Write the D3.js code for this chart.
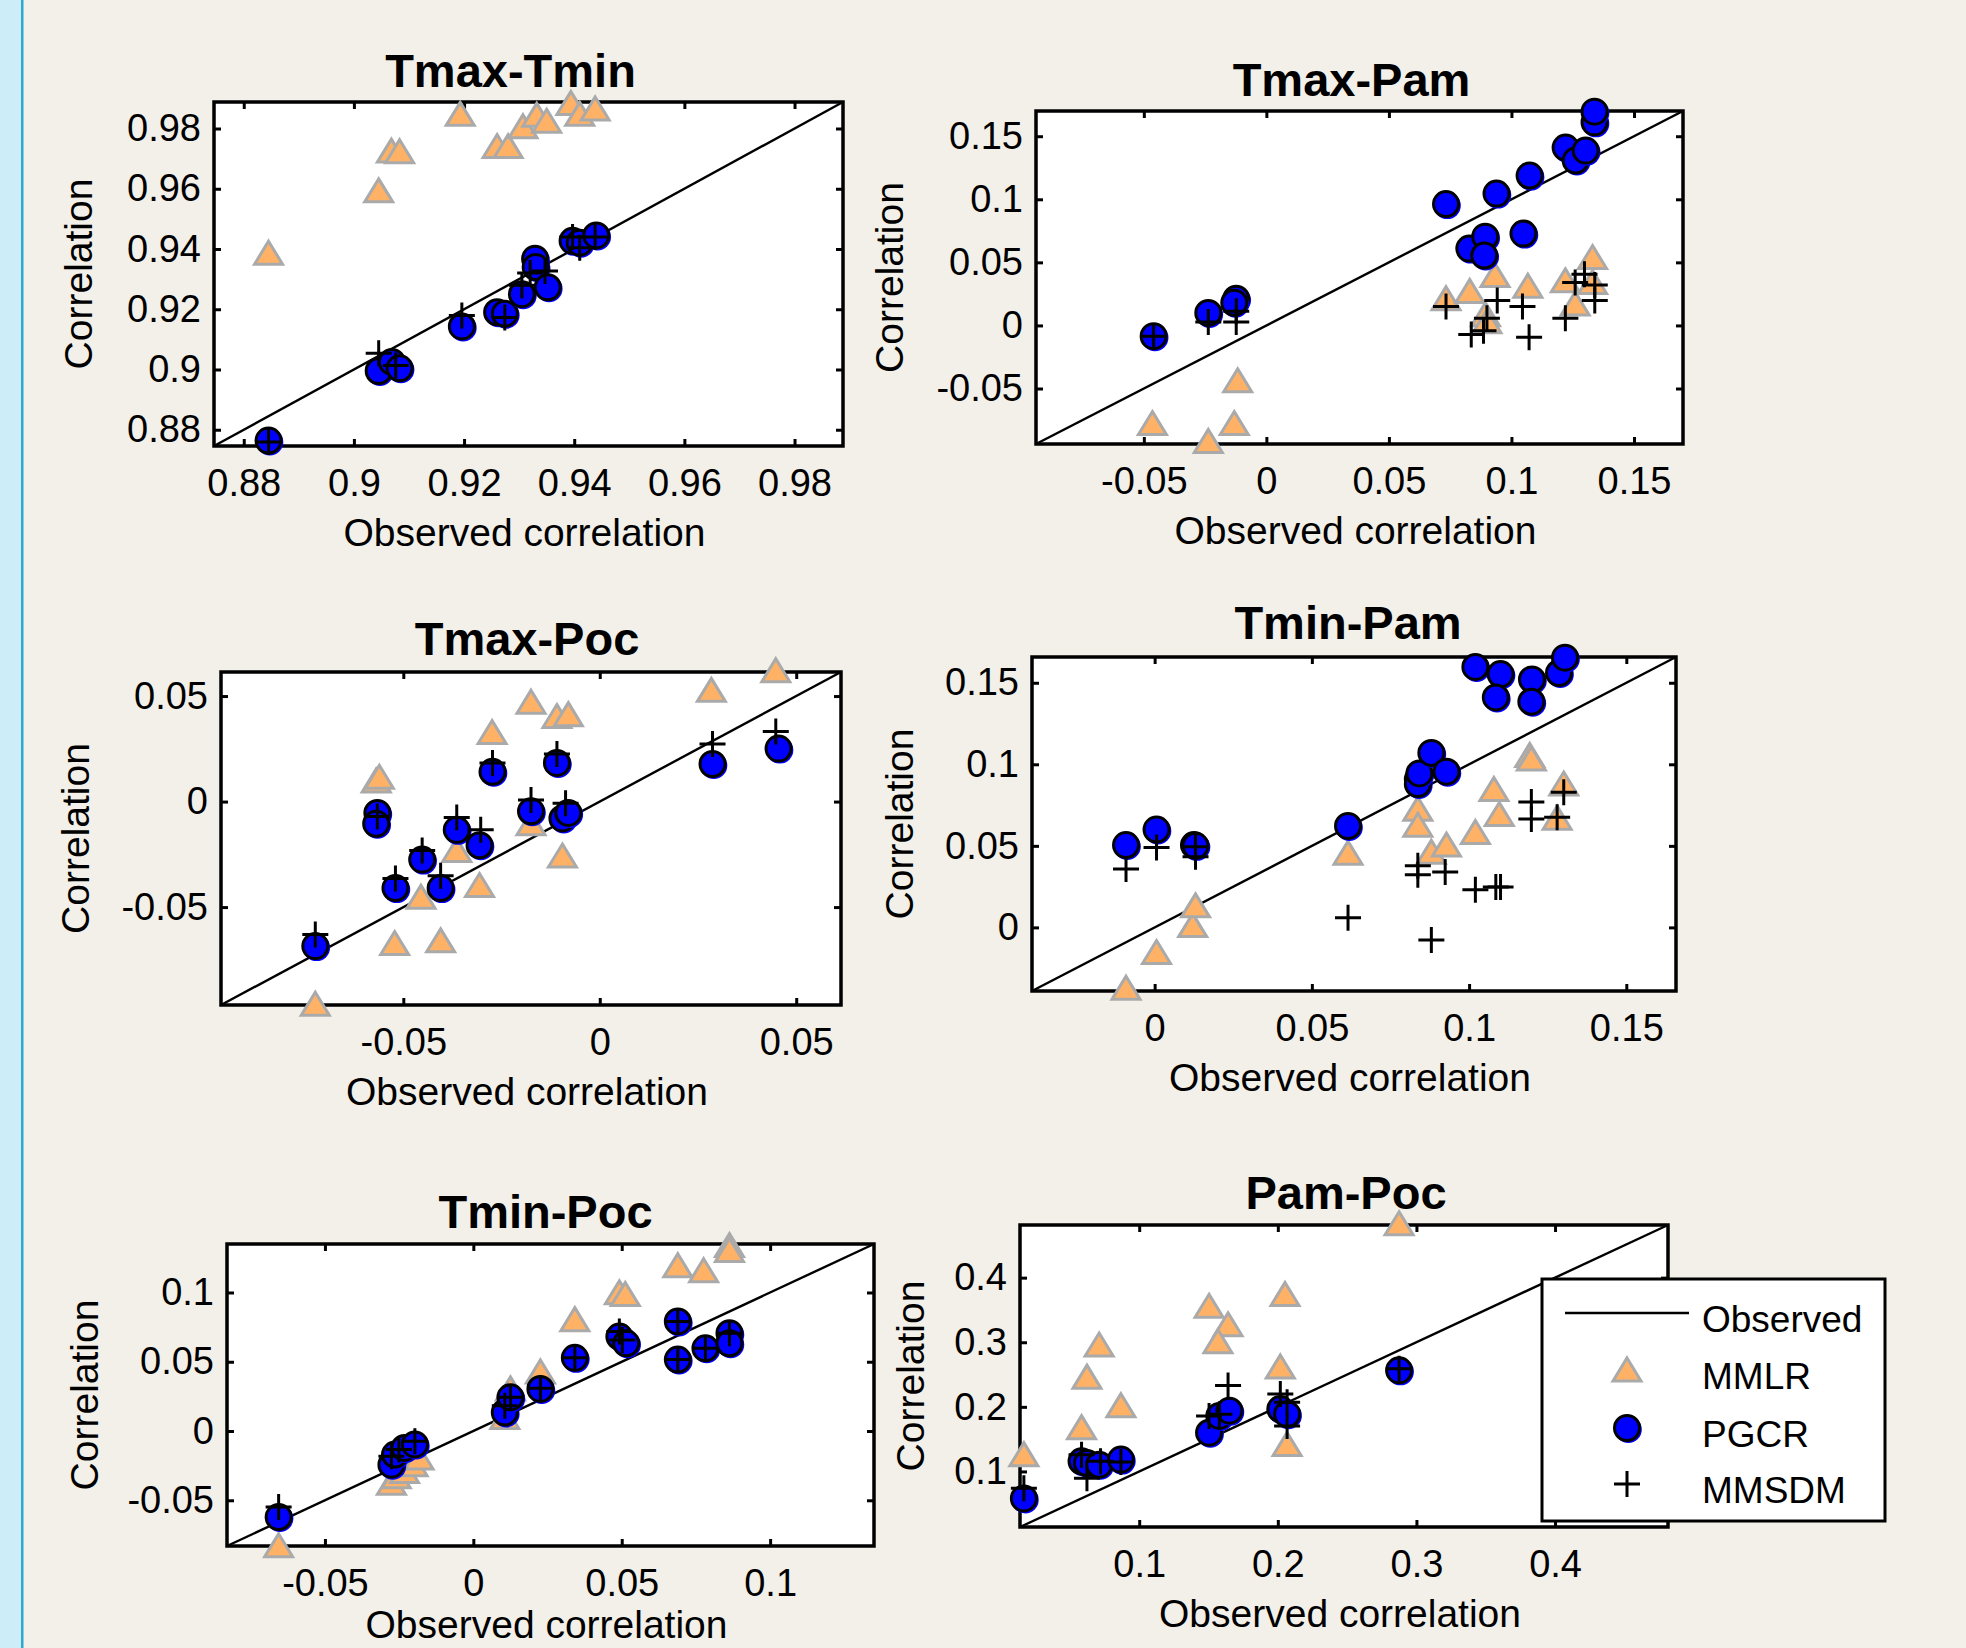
<!DOCTYPE html>
<html>
<head>
<meta charset="utf-8">
<script src="https://cdn.jsdelivr.net/npm/d3@7"></script>
<style>
    html, body { margin: 0; padding: 0; background: #f2f0e9; }
    svg { display: block; font-family: "Liberation Sans", Arial, sans-serif; }
</style>
</head>
<body>
<svg id="chart" width="1966" height="1648"></svg>
<script>
'use strict';

// ---- data: [observed, modelled] correlation pairs ----

var tmaxTminMMLR = [[0.8845,0.9386],[0.9045,0.9593],[0.9068,0.9725],[0.9083,0.9723],[0.9193,0.9847],[0.926,0.974],[0.928,0.974],[0.9307,0.9806],[0.9332,0.9844],[0.935,0.9824],[0.9394,0.9883],[0.941,0.9847],[0.9438,0.9865]];
var tmaxTminPGCR = [[0.8845,0.8764],[0.9045,0.8995],[0.9069,0.9025],[0.9083,0.9004],[0.9196,0.9143],[0.926,0.919],[0.9274,0.9185],[0.9305,0.925],[0.9329,0.9368],[0.933,0.934],[0.9352,0.9273],[0.9397,0.9427],[0.941,0.9421],[0.944,0.9445]];
var tmaxTminMMSDM = [[0.8845,0.8759],[0.9045,0.9054],[0.9076,0.9013],[0.9196,0.9179],[0.9274,0.9173],[0.9305,0.928],[0.932,0.932],[0.9347,0.9327],[0.9397,0.944],[0.941,0.9404],[0.9438,0.944]];

var tmaxPamMMLR = [[-0.0465,-0.0778],[-0.0237,-0.092],[-0.0131,-0.0778],[-0.0117,-0.0439],[0.0733,0.0212],[0.083,0.0269],[0.0894,0.0085],[0.090,0.003],[0.0933,0.0396],[0.1067,0.0311],[0.122,0.0354],[0.126,0.017],[0.1331,0.0538],[0.1331,0.034]];
var tmaxPamPGCR = [[-0.046,-0.0085],[-0.0237,0.0099],[-0.0123,0.0212],[-0.0131,0.018],[0.0733,0.0962],[0.0939,0.1045],[0.1074,0.1188],[0.0828,0.0609],[0.0893,0.0704],[0.0889,0.0554],[0.1049,0.0728],[0.1221,0.141],[0.1262,0.1307],[0.1303,0.1386],[0.1339,0.161],[0.1339,0.1695]];
var tmaxPamMMSDM = [[-0.046,-0.0085],[-0.0237,0.0028],[-0.0123,0.0028],[-0.0123,0.0113],[0.0733,0.015],[0.0836,-0.0071],[0.0886,-0.0042],[0.090,0.0057],[0.0942,0.0198],[0.1045,0.015],[0.1072,-0.0093],[0.122,0.0057],[0.126,0.034],[0.1298,0.0405],[0.134,0.032],[0.134,0.0198]];

var tmaxPocMMLR = [[-0.0724,-0.096],[-0.0569,0.0098],[-0.0561,0.0115],[-0.0522,-0.0673],[-0.0455,-0.0453],[-0.0405,-0.066],[-0.0364,-0.0232],[-0.0306,-0.0398],[-0.0274,0.0327],[-0.0175,0.0471],[-0.0175,-0.0105],[-0.0109,0.0403],[-0.008,0.0412],[-0.0095,-0.0258],[0.0284,0.0527],[0.0448,0.062]];
var tmaxPocPGCR = [[-0.0724,-0.0685],[-0.0566,-0.0054],[-0.0569,-0.0105],[-0.052,-0.041],[-0.0452,-0.0275],[-0.0405,-0.041],[-0.0364,-0.0134],[-0.0306,-0.0207],[-0.0273,0.0141],[-0.0175,-0.0046],[-0.0109,0.0183],[-0.0095,-0.008],[-0.008,-0.0054],[0.0287,0.0178],[0.0455,0.0251]];
var tmaxPocMMSDM = [[-0.0724,-0.063],[-0.0566,-0.0071],[-0.052,-0.0364],[-0.0452,-0.0232],[-0.0405,-0.0351],[-0.0364,-0.0076],[-0.0303,-0.0134],[-0.0273,0.0183],[-0.0175,0.0008],[-0.0109,0.0225],[-0.0087,-0.0008],[0.0287,0.0273],[0.0448,0.0332]];

var tminPamMMLR = [[-0.0091,-0.0373],[0.0006,-0.0154],[0.0121,0.0011],[0.013,0.0132],[0.0615,0.0455],[0.0837,0.0725],[0.0837,0.0626],[0.088,0.0461],[0.0928,0.0505],[0.102,0.0582],[0.1079,0.0846],[0.1096,0.0692],[0.1193,0.1054],[0.1198,0.1032],[0.1301,0.0879],[0.128,0.067]];
var tminPamPGCR = [[-0.0091,0.0505],[0.0006,0.060],[0.0125,0.0505],[0.013,0.050],[0.0615,0.0622],[0.0837,0.0907],[0.0837,0.0879],[0.0842,0.0944],[0.088,0.107],[0.0928,0.0955],[0.102,0.1597],[0.110,0.1553],[0.1085,0.141],[0.120,0.152],[0.1198,0.1384],[0.1286,0.156],[0.1305,0.1654]];
var tminPamMMSDM = [[-0.0091,0.0358],[0.0006,0.049],[0.013,0.0494],[0.013,0.0433],[0.0615,0.0059],[0.0837,0.0378],[0.0837,0.0323],[0.0924,0.034],[0.088,-0.0077],[0.102,0.0231],[0.1085,0.0248],[0.110,0.0248],[0.1198,0.0769],[0.1198,0.0665],[0.128,0.0676],[0.1301,0.0828]];

var tminPocMMLR = [[-0.0656,-0.0828],[-0.0276,-0.0377],[-0.026,-0.033],[-0.0232,-0.0292],[-0.0203,-0.0243],[-0.0183,-0.0195],[0.0106,0.0097],[0.0125,0.0304],[0.0226,0.0426],[0.0342,0.0804],[0.0492,0.0998],[0.0512,0.0986],[0.0689,0.1193],[0.0776,0.1157],[0.0863,0.1339],[0.0863,0.1303]];
var tminPocPGCR = [[-0.0656,-0.0621],[-0.0276,-0.0243],[-0.0264,-0.017],[-0.0232,-0.0122],[-0.0197,-0.0097],[0.0106,0.0134],[0.0125,0.0243],[0.0226,0.0304],[0.0342,0.0528],[0.0492,0.0682],[0.0515,0.0633],[0.0689,0.0791],[0.0689,0.0516],[0.0782,0.0597],[0.0863,0.0706],[0.0863,0.0633]];
var tminPocMMSDM = [[-0.0656,-0.0548],[-0.0276,-0.0183],[-0.0251,-0.0134],[-0.0197,-0.0073],[0.0106,0.0183],[0.0125,0.0243],[0.0226,0.0309],[0.0342,0.0528],[0.0492,0.0718],[0.0502,0.0657],[0.0689,0.0791],[0.0689,0.0516],[0.0782,0.0597],[0.0863,0.0706]];

var pamPocMMLR = [[0.0168,0.126],[0.0584,0.1678],[0.0623,0.246],[0.0711,0.2956],[0.0868,0.2017],[0.1504,0.3556],[0.1641,0.327],[0.1568,0.3008],[0.2018,0.2617],[0.2052,0.3739],[0.2067,0.1417],[0.2875,0.4834]];
var pamPocPGCR = [[0.0168,0.0583],[0.0584,0.1157],[0.0623,0.113],[0.0711,0.1104],[0.0868,0.1183],[0.1504,0.16],[0.1578,0.186],[0.1651,0.194],[0.2018,0.1965],[0.2067,0.1887],[0.2875,0.2565]];
var pamPocMMSDM = [[0.0168,0.074],[0.0584,0.126],[0.0623,0.0896],[0.0721,0.1157],[0.0868,0.1146],[0.1504,0.186],[0.1578,0.1887],[0.1641,0.233],[0.2018,0.22],[0.2067,0.207],[0.2067,0.1704],[0.2875,0.259]];

// tick values of each panel (same on both axes)
var tmaxTminTicks = [0.88, 0.9, 0.92, 0.94, 0.96, 0.98];
var tmaxPamTicks = [-0.05, 0, 0.05, 0.1, 0.15];
var tmaxPocTicks = [-0.05, 0, 0.05];
var tminPamTicks = [0, 0.05, 0.1, 0.15];
var tminPocTicks = [-0.05, 0, 0.05, 0.1];
var pamPocTicks = [0.1, 0.2, 0.3, 0.4];

var seriesNames = ['Observed', 'MMLR', 'PGCR', 'MMSDM'];

// ---- layout ----
var panels = [
    {title: 'Tmax-Tmin', box: [214, 102, 843, 446], domain: [0.8746, 0.9888], ticks: tmaxTminTicks,
        mmlr: tmaxTminMMLR, pgcr: tmaxTminPGCR, mmsdm: tmaxTminMMSDM, titleDx: -18, titleGap: 15, yLabelGap: 122, xLabelGap: 100},
    {title: 'Tmax-Pam', box: [1036, 111, 1683, 444], domain: [-0.094, 0.170], ticks: tmaxPamTicks,
        mmlr: tmaxPamMMLR, pgcr: tmaxPamPGCR, mmsdm: tmaxPamMMSDM, titleDx: -8, titleGap: 15, yLabelGap: 133, xLabelGap: 100},
    {title: 'Tmax-Poc', box: [221, 672, 841, 1005], domain: [-0.0964, 0.0614], ticks: tmaxPocTicks,
        mmlr: tmaxPocMMLR, pgcr: tmaxPocPGCR, mmsdm: tmaxPocMMSDM, titleDx: -4, titleGap: 17, yLabelGap: 132, xLabelGap: 100},
    {title: 'Tmin-Pam', box: [1032, 657, 1676, 991], domain: [-0.039, 0.1658], ticks: tminPamTicks,
        mmlr: tminPamMMLR, pgcr: tminPamPGCR, mmsdm: tminPamMMSDM, titleDx: -6, titleGap: 18, yLabelGap: 119, xLabelGap: 100},
    {title: 'Tmin-Poc', box: [227, 1244, 874, 1546], domain: [-0.083, 0.135], ticks: tminPocTicks,
        mmlr: tminPocMMLR, pgcr: tminPocPGCR, mmsdm: tminPocMMSDM, titleDx: -5, titleGap: 16, yLabelGap: 129, xLabelGap: 92},
    {title: 'Pam-Poc', box: [1020, 1225, 1668, 1527], domain: [0.014, 0.4815], ticks: pamPocTicks,
        mmlr: pamPocMMLR, pgcr: pamPocPGCR, mmsdm: pamPocMMSDM, titleDx: 2, titleGap: 16, yLabelGap: 96, xLabelGap: 100}
];

var triFill = '#ffb266', triEdge = '#aaaaaa', dotFill = '#0000ff';
var trianglePath = 'M0,-12L14,11L-14,11Z';
var fmt = function(d) { return String(+d.toFixed(3)); };

var svg = d3.select('#chart');

svg.append('rect').attr('width', 1966).attr('height', 1648).attr('fill', '#f2f0e9');
svg.append('rect').attr('width', 21).attr('height', 1648).attr('fill', '#cdeef8');
svg.append('rect').attr('x', 21).attr('width', 2.5).attr('height', 1648).attr('fill', '#2aa9d2');

function drawTriangles(g, data, x, y) {
    g.selectAll(null).data(data).enter().append('path')
        .attr('d', trianglePath)
        .attr('transform', function(d) { return 'translate(' + x(d[0]) + ',' + y(d[1]) + ')'; })
        .attr('fill', triFill).attr('stroke', triEdge).attr('stroke-width', 3)
        .attr('stroke-linejoin', 'miter');
}

function drawDots(g, data, x, y) {
    var dots = g.selectAll(null).data(data).enter().append('g')
        .attr('transform', function(d) { return 'translate(' + x(d[0]) + ',' + y(d[1]) + ')'; });
    dots.append('circle').attr('cx', 1.3).attr('cy', 1.5).attr('r', 13.5).attr('fill', dotFill);
    dots.append('circle').attr('r', 12.5).attr('fill', dotFill)
        .attr('stroke', '#000').attr('stroke-width', 3);
}

function drawPluses(g, data, x, y) {
    g.selectAll(null).data(data).enter().append('path')
        .attr('d', 'M-13,0H13M0,-13V13')
        .attr('transform', function(d) { return 'translate(' + x(d[0]) + ',' + y(d[1]) + ')'; })
        .attr('stroke', '#000').attr('stroke-width', 3).attr('fill', 'none');
}

function styleAxis(g) {
    g.select('.domain').remove();
    g.selectAll('.tick line').attr('stroke', '#000').attr('stroke-width', 3);
    g.selectAll('.tick text').attr('fill', '#000');
    g.attr('font-size', 38).attr('font-family', '"Liberation Sans", Arial, sans-serif');
}

panels.forEach(function(p) {
    var x0 = p.box[0], y0 = p.box[1], x1 = p.box[2], y1 = p.box[3];
    var x = d3.scaleLinear().domain(p.domain).range([x0, x1]);
    var y = d3.scaleLinear().domain(p.domain).range([y1, y0]);
    var g = svg.append('g');

    g.append('rect').attr('x', x0).attr('y', y0).attr('width', x1 - x0).attr('height', y1 - y0)
        .attr('fill', '#fff');

    g.append('g').attr('transform', 'translate(0,' + y1 + ')')
        .call(d3.axisBottom(x).tickValues(p.ticks).tickFormat(fmt).tickSize(-7).tickSizeOuter(0).tickPadding(23))
        .call(styleAxis);
    g.append('g').attr('transform', 'translate(0,' + y0 + ')')
        .call(d3.axisTop(x).tickValues(p.ticks).tickFormat('').tickSize(-7).tickSizeOuter(0))
        .call(styleAxis);
    g.append('g').attr('transform', 'translate(' + x0 + ',0)')
        .call(d3.axisLeft(y).tickValues(p.ticks).tickFormat(fmt).tickSize(-7).tickSizeOuter(0).tickPadding(13))
        .call(styleAxis);
    g.append('g').attr('transform', 'translate(' + x1 + ',0)')
        .call(d3.axisRight(y).tickValues(p.ticks).tickFormat('').tickSize(-7).tickSizeOuter(0))
        .call(styleAxis);

    // observed = modelled line, corner to corner
    g.append('line')
        .attr('x1', x(p.domain[0])).attr('y1', y(p.domain[0]))
        .attr('x2', x(p.domain[1])).attr('y2', y(p.domain[1]))
        .attr('stroke', '#000').attr('stroke-width', 2.4);

    g.append('rect').attr('x', x0).attr('y', y0).attr('width', x1 - x0).attr('height', y1 - y0)
        .attr('fill', 'none').attr('stroke', '#000').attr('stroke-width', 3.5);

    drawTriangles(g, p.mmlr, x, y);
    drawDots(g, p.pgcr, x, y);
    drawPluses(g, p.mmsdm, x, y);

    var cx = (x0 + x1) / 2;
    g.append('text').text(p.title)
        .attr('x', cx + p.titleDx).attr('y', y0 - p.titleGap)
        .attr('text-anchor', 'middle').attr('font-weight', 'bold').attr('font-size', 47);
    g.append('text').text('Observed correlation')
        .attr('x', cx - 4).attr('y', y1 + p.xLabelGap)
        .attr('text-anchor', 'middle').attr('font-size', 39);
    g.append('text').text('Correlation')
        .attr('transform', 'translate(' + (x0 - p.yLabelGap) + ',' + ((y0 + y1) / 2) + ') rotate(-90)')
        .attr('text-anchor', 'middle').attr('font-size', 39);
});

// legend, placed over the last panel
var legend = svg.append('g').attr('transform', 'translate(1542,1279)');
legend.append('rect').attr('width', 343).attr('height', 242)
    .attr('fill', '#fff').attr('stroke', '#000').attr('stroke-width', 3);
var rowY = [34, 91, 149, 205];
legend.selectAll('text').data(seriesNames).enter().append('text')
    .text(function(d) { return d; })
    .attr('x', 160).attr('y', function(d, i) { return rowY[i] + 19; })
    .attr('font-size', 37);
legend.append('line').attr('x1', 23).attr('x2', 147).attr('y1', rowY[0]).attr('y2', rowY[0])
    .attr('stroke', '#000').attr('stroke-width', 2.4);
drawTriangles(legend, [[85, rowY[1]]], function(v) { return v; }, function(v) { return v; });
drawDots(legend, [[85, rowY[2]]], function(v) { return v; }, function(v) { return v; });
drawPluses(legend, [[85, rowY[3]]], function(v) { return v; }, function(v) { return v; });
</script>
</body>
</html>
